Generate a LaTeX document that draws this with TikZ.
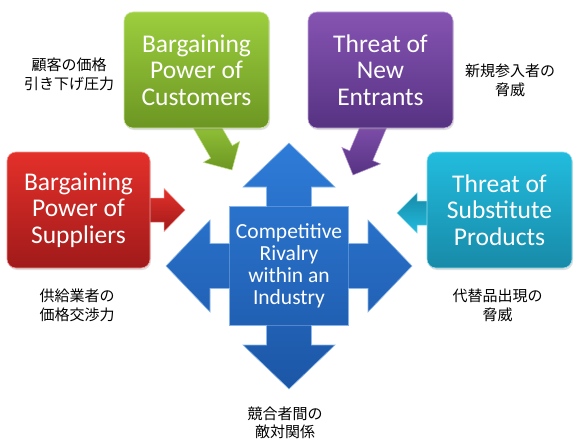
\documentclass[tikz,border=0pt]{standalone}
\usepackage{fontspec}
\setmainfont{Carlito}
\newfontfamily\jpfont{Noto Sans CJK JP}
\usetikzlibrary{shadows}
\definecolor{gTop}{RGB}{156,206,62}
\definecolor{gBot}{RGB}{108,150,34}
\definecolor{pTop}{RGB}{134,84,178}
\definecolor{pBot}{RGB}{86,50,130}
\definecolor{rTop}{RGB}{228,48,42}
\definecolor{rBot}{RGB}{160,26,26}
\definecolor{cTop}{RGB}{34,188,222}
\definecolor{cBot}{RGB}{24,138,168}
\definecolor{bTop}{RGB}{46,124,216}
\definecolor{bBot}{RGB}{28,86,166}
\begin{document}
\begin{tikzpicture}[x=1pt,y=-1pt,
  forcebox/.style={rounded corners=9pt, inner sep=0pt, text=white, align=center,
    font=\fontsize{25.5}{26.5}\selectfont, minimum width=145pt, minimum height=116pt,
    drop shadow={shadow xshift=1pt, shadow yshift=-2pt, opacity=0.25}},
  jplabel/.style={align=center, inner sep=0pt, font=\jpfont\fontsize{15}{18.5}\selectfont},
  blockarrow/.style={line width=0.5pt}]
\useasboundingbox (0,0) rectangle (580,441);
\fill[white] (0,0) rectangle (580,441);

% tips of the small block arrows
\coordinate (gtip) at (232,170);
\coordinate (ptip) at (353,175);
\coordinate (rtip) at (185,210);
\coordinate (ctip) at (397,213);

\begin{scope}[shift={(gtip)}, rotate=-60]
  \draw[blockarrow, draw=gTop!60!white, top color=gTop, bottom color=gBot]
    (0,0) -- (-21,-21) -- (-21,-12.5) -- (-60,-12.5) -- (-60,12.5) -- (-21,12.5) -- (-21,21) -- cycle;
\end{scope}
\begin{scope}[shift={(ptip)}, rotate=-113]
  \draw[blockarrow, draw=pTop!60!white, top color=pTop, bottom color=pBot]
    (0,0) -- (-21,-21) -- (-21,-12.5) -- (-60,-12.5) -- (-60,12.5) -- (-21,12.5) -- (-21,21) -- cycle;
\end{scope}
\begin{scope}[shift={(rtip)}]
  \draw[blockarrow, draw=rTop!60!white, top color=rTop, bottom color=rBot]
    (0,0) -- (-21,-21.5) -- (-21,-12) -- (-60,-12) -- (-60,12) -- (-21,12) -- (-21,21.5) -- cycle;
\end{scope}
\begin{scope}[shift={(ctip)}, rotate=180]
  \draw[blockarrow, draw=cTop!60!white, top color=cBot, bottom color=cTop]
    (0,0) -- (-20,-20) -- (-20,-12) -- (-60,-12) -- (-60,12) -- (-20,12) -- (-20,20) -- cycle;
\end{scope}

% boxes
\node[forcebox, top color=gTop, bottom color=gBot, draw=gTop!50!white, line width=0.6pt]
  (cust) at (196.5,70) {Bargaining\\Power of\\Customers};
\node[forcebox, top color=pTop, bottom color=pBot, draw=pTop!50!white, line width=0.6pt]
  (entr) at (380.5,70) {Threat of\\New\\Entrants};
\node[forcebox, minimum width=143pt, top color=rTop, bottom color=rBot, draw=rTop!50!white, line width=0.6pt]
  (supp) at (78.5,210) {Bargaining\\Power of\\Suppliers};
\node[forcebox, top color=cTop, bottom color=cBot, draw=cTop!50!white, line width=0.6pt]
  (subs) at (499.5,210) {Threat of\\Substitute\\Products};

% central quad arrow
\coordinate (ctr) at (289,266);
\begin{scope}[shift={(ctr)}]
  \draw[line width=0.6pt, draw=bTop!55!white, top color=bTop, bottom color=bBot]
    (0,-123) -- (46,-79) -- (22.5,-79) -- (22.5,-59.5) -- (59.5,-59.5) -- (59.5,-22.5)
    -- (79,-22.5) -- (79,-46) -- (123,0) -- (79,46) -- (79,22.5) -- (59.5,22.5)
    -- (59.5,59.5) -- (22.5,59.5) -- (22.5,79) -- (46,79) -- (0,123) -- (-46,79)
    -- (-22.5,79) -- (-22.5,59.5) -- (-59.5,59.5) -- (-59.5,22.5) -- (-79,22.5)
    -- (-79,46) -- (-123,0) -- (-79,-46) -- (-79,-22.5) -- (-59.5,-22.5)
    -- (-59.5,-59.5) -- (-22.5,-59.5) -- (-22.5,-79) -- (-46,-79) -- cycle;
  \draw[line width=0.5pt, draw=bTop!60!white, opacity=0.5]
    (-59.5,-59.5) rectangle (59.5,59.5);
\end{scope}
\node[text=white, align=center, inner sep=0pt, font=\fontsize{21.5}{22}\selectfont]
  (rivalry) at (ctr) {Competitive\\Rivalry\\within an\\Industry};

% Japanese labels
\node[jplabel] (custjp) at (69,74.5) {顧客の価格\\引き下げ圧力};
\node[jplabel] (entrjp) at (510,80.5) {新規参入者の\\脅威};
\node[jplabel] (suppjp) at (77,305.5) {供給業者の\\価格交渉力};
\node[jplabel] (subsjp) at (497.5,305.5) {代替品出現の\\脅威};
\node[jplabel] (rivjp) at (285,423) {競合者間の\\敵対関係};
\end{tikzpicture}
\end{document}
